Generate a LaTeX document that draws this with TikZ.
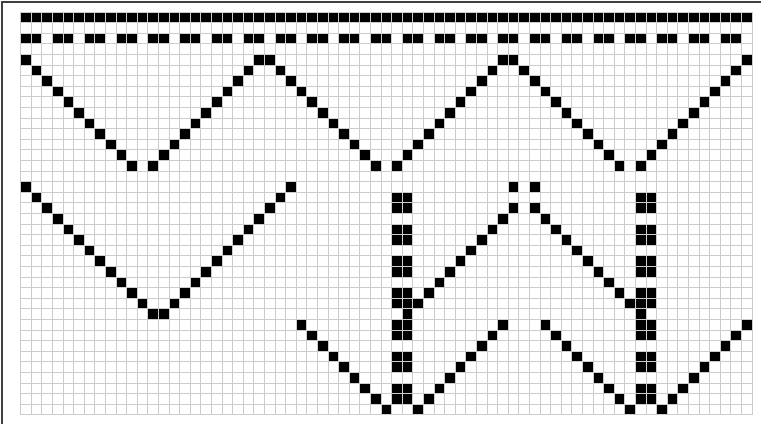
\documentclass[tikz,border=0pt]{standalone}
\usepackage{tikz}
\tikzset{
	pix/.style    ={fill=black},
	gridln/.style ={draw=black!20, line width=0.8pt},
	frameln/.style={draw=black!75, line width=1.5pt},
}
\newcommand{\px}[2]{\fill[pix] (#1,#2) rectangle ++(1,1);}

\begin{document}
\begin{tikzpicture}[x=10.6pt, y=-10.6pt]
	\useasboundingbox (-1.934,-1.132) rectangle (69.858,38.868);
	\draw[frameln] (-1.75,38.868) -- (-1.75,-0.94) -- (69.858,-0.94);
	% top rows
	\foreach \c in {0,...,68} \px{\c}{0};
	\foreach \c in {0,3,...,66} \fill[pix] (\c,2) rectangle ++(2,1);
	% upper zigzag
	\foreach \p in {0,23,46}
		\foreach \k in {0,...,10} {\px{\p+\k}{4+\k} \px{\p+12+\k}{14-\k}}
	% lower left V
	\foreach \k in {0,...,11} {\px{\k}{16+\k} \px{14+\k}{27-\k}}
	\px{12}{28} \px{13}{28}
	% lower right strokes
	\foreach \k in {0,...,8} {
		\px{26+\k}{29+\k} \px{37+\k}{37-\k}
		\px{49+\k}{29+\k} \px{60+\k}{37-\k}
		\px{37+\k}{27-\k} \px{49+\k}{19+\k}
	}
	\px{46}{18} \px{46}{16} \px{48}{16} \px{48}{18}
	% block columns
	\foreach \r in {17,20,...,35} {
		\fill[pix] (35,\r) rectangle ++(2,2);
		\fill[pix] (58,\r) rectangle ++(2,2);
	}
	\px{36}{28} \px{58}{28}
	% grid
	\foreach \i in {0,...,69} \draw[gridln] (\i,0) -- (\i,38);
	\foreach \j in {0,...,38} \draw[gridln] (0,\j) -- (69,\j);
\end{tikzpicture}
\end{document}
